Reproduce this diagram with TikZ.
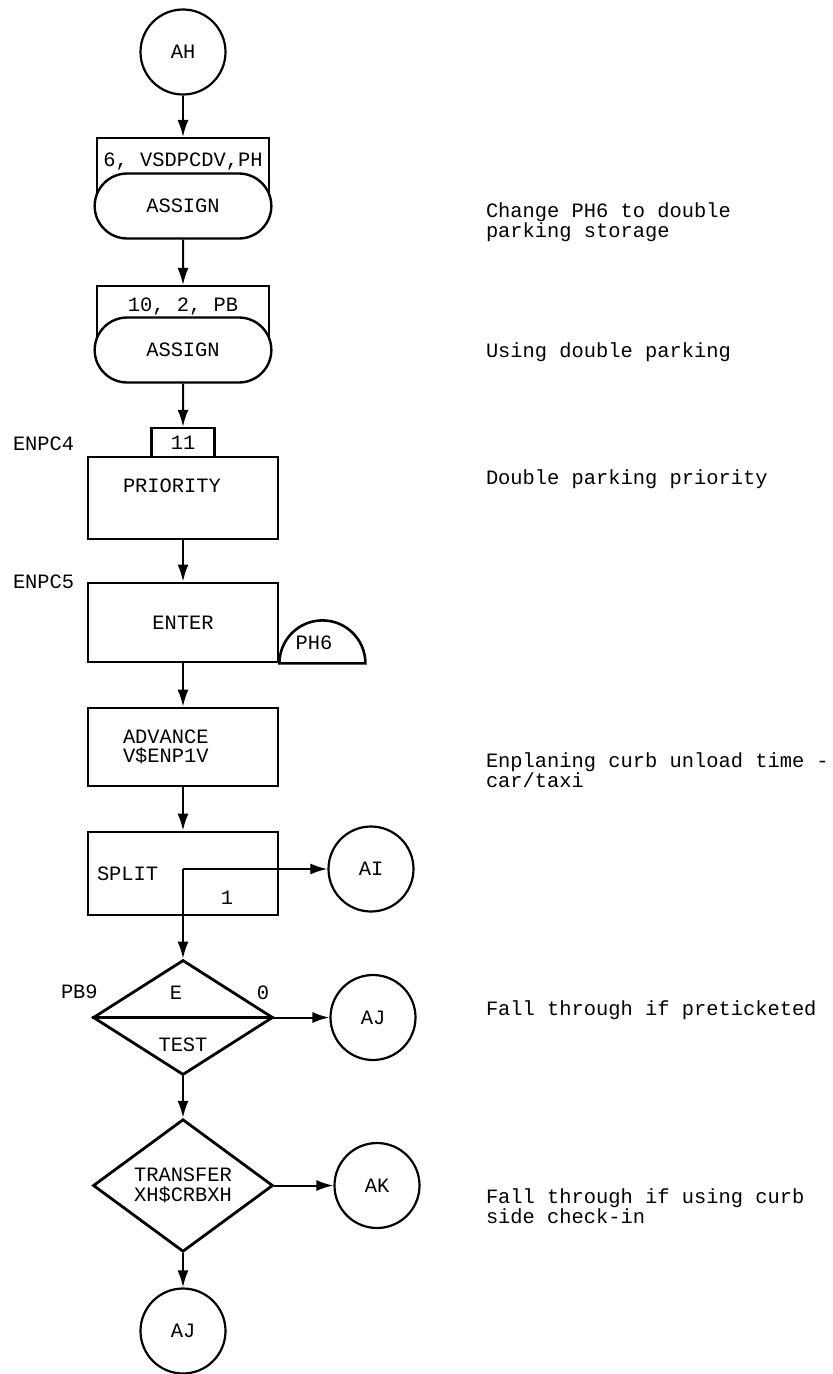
\documentclass[tikz,border=0pt]{standalone}
\usepackage{fontspec}
\setmainfont{Liberation Mono}
\usetikzlibrary{arrows.meta,shapes.geometric,shapes.misc}

\begin{document}
\begin{tikzpicture}[x=0.5pt,y=-0.5pt,>={Latex[length=8.5pt,width=5.5pt]},
  font=\fontsize{10.2}{9.8}\selectfont,line width=1pt,
  conn/.style={circle,draw,line width=1.1pt,minimum size=42.5pt,inner sep=0pt},
  terminal/.style={rounded rectangle,draw,fill=white,line width=1.2pt,minimum width=95pt,minimum height=32.5pt},
  parm/.style={draw,anchor=north,line width=1.2pt,minimum width=86pt,inner xsep=2pt,inner ysep=3pt,text depth=19pt},
  block/.style={draw,line width=1.4pt,minimum width=95pt,align=left},
  decision/.style={diamond,draw,line width=1.4pt,minimum width=90pt,minimum height=57.5pt,inner sep=0pt},
  note/.style={anchor=west,inner sep=0pt,align=left}]
			\useasboundingbox (0,0) rectangle (833,1374);
			
			\node[conn] (ah) at (183,52) {AH};
			\node[parm,text height=11pt] (pa1) at (183,137) {6, VSDPCDV,PH};
			\node[terminal] (as1) at (183,206) {ASSIGN};
			\node[parm,text height=9.5pt] (pa2) at (183,285) {10, 2, PB};
			\node[terminal] (as2) at (183,350) {ASSIGN};
			\node[draw,line width=1.2pt,minimum width=31.5pt,minimum height=14.5pt,inner sep=0pt] (p11) at (183,442.5) {11};
			\node[block,minimum height=41pt,text width=60pt,inner xsep=17.5pt,text depth=12pt] (pri) at (183,498) {PRIORITY};
			\node[block,minimum height=39.5pt,text width=60pt,inner xsep=17.5pt,align=center] (ent) at (183,622.5) {ENTER};
			\draw[line width=1.3pt] (ent.south east) arc[start angle=180,end angle=0,radius=21.5pt] -- cycle;
			\node (ph6) at (314,643) {PH6};
			\node[block,minimum height=39pt,text width=60pt,inner xsep=17.5pt] (adv) at (183,747) {ADVANCE\\V\$ENP1V};
			\node[block,minimum height=41.5pt,text width=86pt,inner xsep=4.5pt] (spl) at (183,873.5) {SPLIT};
			\node (one) at (227,898) {1};
			\coordinate (fork) at (183,869);
			\node[conn] (ai) at (371,869) {AI};
			\node[decision,label={[xshift=-3.5pt,yshift=12.25pt]center:E},label={[xshift=40pt,yshift=12.25pt]center:0},
				label={[yshift=-13.75pt]center:TEST}] (tst) at (183,1017.5) {};
			\draw[line width=1.4pt] (tst.west) -- (tst.east);
			\node[conn] (aj) at (373,1017.5) {AJ};
			\node[decision,align=center] (trf) at (183,1185.5) {TRANSFER\\XH\$CRBXH};
			\node[conn] (ak) at (377,1185.5) {AK};
			\node[conn] (aj2) at (183,1331) {AJ};
			
			\node[note] (enpc4) at (12,444) {ENPC4};
			\node[note] (enpc5) at (12,582) {ENPC5};
			\node[note] (pb9) at (60,992) {PB9};
			
			\node[note] (c1) at (485,222) {Change PH6 to double\\parking storage};
			\node[note] (c2) at (485,352) {Using double parking};
			\node[note] (c3) at (485,479) {Double parking priority};
			\node[note] (c4) at (485,770) {Enplaning curb unload time -\\car/taxi};
			\node[note] (c5) at (485,1010) {Fall through if preticketed};
			\node[note] (c6) at (485,1206) {Fall through if using curb\\side check-in};
			
			\draw[->] (ah) -- (pa1);
			\draw[->] (as1) -- (pa2);
			\draw[->] (as2) -- (p11);
			\draw[->] (pri) -- (ent);
			\draw[->] (ent) -- (adv);
			\draw[->] (adv) -- (spl);
			\draw[->] (fork) -- (ai);
			\draw[->] (fork) -- (tst);
			\draw[->] (tst) -- (aj);
			\draw[->] (tst) -- (trf);
			\draw[->] (trf) -- (ak);
			\draw[->] (trf) -- (aj2);
		\end{tikzpicture}
\end{document}
